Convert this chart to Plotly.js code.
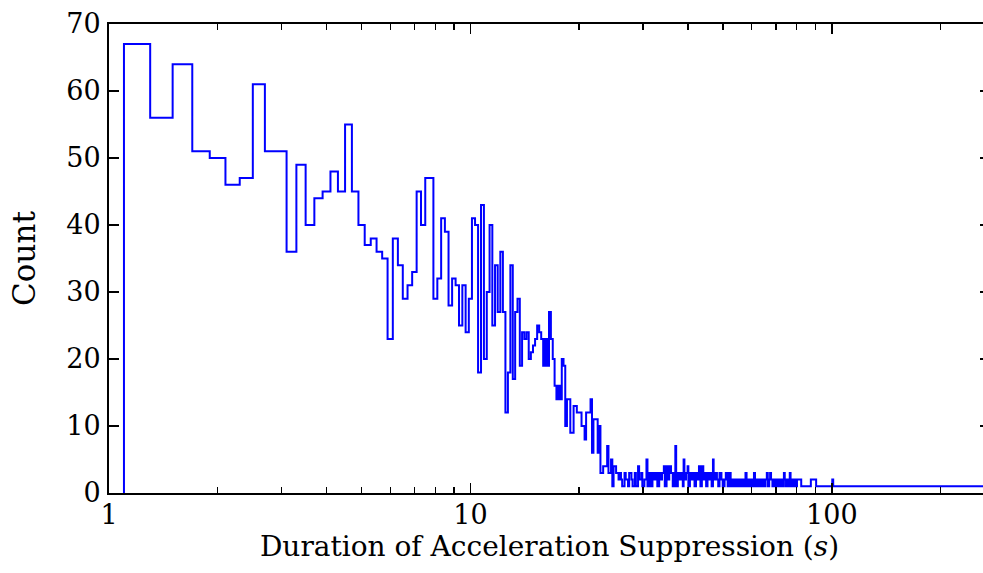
<!DOCTYPE html>
<html>
<head>
<meta charset="utf-8">
<script src="https://cdn.plot.ly/plotly-3.0.1.min.js"></script>
<style>
  html, body { margin: 0; padding: 0; overflow: hidden; background: #fff; }
  #chart { width: 1000px; height: 573px; }
</style>
</head>
<body>
<div id="chart"></div>
<script>
// Histogram of acceleration-suppression durations (step outline)
// Regular region: bins of 0.2 s starting at 1.1 s
const binStart = 1.1;
const binWidth = 0.2;
const startCount = 0;
const binCounts = [
  67, 56, 64, 51, 50, 46, 47, 61, 51, 51,
  36, 49, 40, 44, 45, 48, 45, 55, 45, 40,
  37, 38, 36, 35, 23, 38, 34, 29, 31, 33,
  45, 40, 47, 47, 29, 32, 41, 39, 28, 32,
  31, 25, 31, 24, 29, 41, 40, 18, 43, 20,
  30, 40, 25, 34, 27, 36, 27, 12, 18, 34,
  17, 27, 29, 19, 24, 23, 24, 20, 21, 22,
  23, 25, 24, 23, 19, 23, 19, 27, 23, 20,
  16, 14, 16, 14, 20, 19, 10, 14, 14, 9,
  9, 13, 13, 12, 12, 12, 10, 10, 8, 12,
  12, 12, 14, 6, 11, 11, 11, 6, 10, 3,
  3, 4, 4, 4, 7, 3, 3, 5, 1, 4
];

// Sparse tail: observed durations (s) and their counts
const tailDurations = [
  25.1, 25.3, 25.5, 25.7, 25.9, 26.1, 26.3, 26.7, 26.9, 27.3,
  27.5, 27.9, 28.1, 28.5, 28.7, 29.1, 29.3, 29.7, 29.9, 30.3,
  30.7, 30.9, 31.3, 31.5, 31.9, 32.1, 32.5, 32.9, 33.3, 33.5,
  33.9, 34.3, 34.5, 34.9, 35.3, 35.5, 35.9, 36.3, 36.7, 36.9,
  37.1, 37.5, 37.9, 38.3, 38.7, 38.9, 39.1, 39.5, 39.9, 40.1,
  40.5, 40.9, 41.3, 41.7, 42.1, 42.5, 42.9, 43.3, 43.7, 44.1,
  44.5, 44.9, 45.3, 45.7, 46.1, 46.5, 46.9, 47.1, 47.5, 48.1,
  48.5, 48.9, 49.5, 49.9, 50.5, 50.9, 51.5, 51.9, 52.5, 52.9,
  53.5, 54.1, 54.7, 55.3, 55.9, 56.5, 57.1, 57.7, 58.1, 58.7,
  59.3, 59.9, 60.5, 60.9, 61.3, 61.9, 62.5, 63.1, 63.7, 64.3,
  64.9, 65.5, 66.1, 66.5, 67.1, 67.5, 67.9, 68.5, 69.1, 69.7,
  70.3, 70.9, 71.5, 72.1, 72.7, 73.3, 73.7, 74.1, 74.7, 75.3,
  75.9, 76.5, 76.9, 77.5, 78.1, 78.9, 79.5, 80.1, 82.3, 87.5,
  90.5, 100.3, 100.9, 274
];
const tailCounts = [
  4, 3, 3, 2, 3, 2, 1, 3, 2, 1,
  3, 2, 1, 3, 1, 4, 2, 3, 1, 2,
  5, 1, 3, 1, 3, 2, 3, 1, 3, 2,
  3, 4, 1, 4, 2, 4, 3, 1, 3, 7,
  1, 3, 2, 3, 1, 5, 2, 3, 4, 1,
  3, 2, 3, 1, 3, 2, 4, 1, 4, 2,
  3, 1, 3, 2, 3, 1, 5, 2, 3, 2,
  1, 3, 2, 1, 2, 3, 1, 3, 1, 2,
  1, 2, 1, 2, 1, 2, 1, 3, 1, 2,
  1, 2, 1, 3, 1, 2, 1, 2, 1, 2,
  1, 2, 3, 1, 2, 3, 2, 1, 2, 1,
  2, 1, 2, 1, 2, 1, 3, 2, 1, 2,
  1, 3, 1, 2, 1, 2, 1, 2, 1, 2,
  1, 2, 1, 1
];

const xTickVals = [1, 10, 100];
const xTickText = ['1', '10', '100'];
const xMinorVals = [2, 3, 4, 5, 6, 7, 8, 9, 20, 30, 40, 50, 60, 70, 80, 90, 200];
const xTitle = 'Duration of Acceleration Suppression (<i>s</i>)';
const yTitle = 'Count';

// Build step outline
const xs = [binStart];
const ys = [startCount];
binCounts.forEach((c, i) => {
  xs.push(Math.round((binStart + i * binWidth) * 100) / 100);
  ys.push(c);
});
tailDurations.forEach((d, i) => { xs.push(d); ys.push(tailCounts[i]); });

const FONT = '"DejaVu Serif", "Liberation Serif", serif';

const trace = {
  x: xs, y: ys, type: 'scatter', mode: 'lines',
  line: { shape: 'hv', color: '#0000ff', width: 2 },
  hoverinfo: 'skip'
};

const layout = {
  width: 1000, height: 573,
  margin: { l: 108.7, r: 10.4, t: 24, b: 80 },
  paper_bgcolor: '#ffffff', plot_bgcolor: '#ffffff',
  showlegend: false,
  font: { family: FONT, color: '#000', size: 27 },
  xaxis: {
    type: 'log', range: [0, Math.log10(274)],
    tickvals: xTickVals, ticktext: xTickText,
    ticks: 'inside', ticklen: 10, tickwidth: 1.6, tickcolor: '#000',
    showline: true, linecolor: '#000', linewidth: 2, mirror: 'allticks',
    showgrid: false, zeroline: false,
    ticklabelstandoff: -3,
    minor: { ticks: 'inside', ticklen: 6, tickwidth: 1.4, tickcolor: '#000', tickvals: xMinorVals, showgrid: false },
    tickfont: { family: FONT, size: 27, color: '#000' },
    title: { text: xTitle, font: { family: FONT, size: 28, color: '#000' }, standoff: 2 }
  },
  yaxis: {
    range: [0, 70], dtick: 10, tick0: 0,
    ticks: 'inside', ticklen: 10, tickwidth: 1.6, tickcolor: '#000',
    showline: true, linecolor: '#000', linewidth: 2, mirror: 'allticks',
    showgrid: false, zeroline: false,
    ticklabelstandoff: 1,
    tickfont: { family: FONT, size: 27, color: '#000' },
    title: { text: yTitle, font: { family: FONT, size: 31, color: '#000' }, standoff: 21 }
  }
};

Plotly.newPlot('chart', [trace], layout, { staticPlot: true, displayModeBar: false });
</script>
</body>
</html>
